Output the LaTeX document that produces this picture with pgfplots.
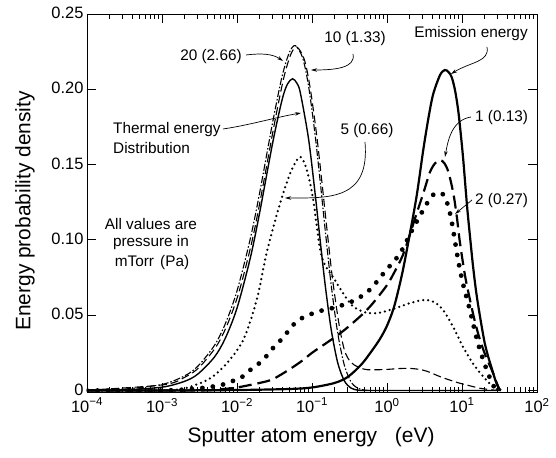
\documentclass[border=0pt]{standalone}
\usepackage{fontspec}
\setmainfont{Liberation Sans}
\usepackage{pgfplots}
\pgfplotsset{compat=1.18}
\usetikzlibrary{arrows.meta}
\begin{document}
\begin{tikzpicture}
\begin{semilogxaxis}[
  at={(87bp,66bp)}, anchor=south west, scale only axis,
  width=450bp, height=378bp,
  xmin=1e-4, xmax=1e2, ymin=-0.001, ymax=0.25,
  xtick={1e-4,1e-3,1e-2,1e-1,1,10,100},
  xticklabels={10\textsuperscript{−4},10\textsuperscript{−3},10\textsuperscript{−2},10\textsuperscript{−1},10\textsuperscript{0},10\textsuperscript{1},10\textsuperscript{2}},
  ytick={0,0.05,0.1,0.15,0.2,0.25},
  yticklabels={0,0.05,0.10,0.15,0.20,0.25},
  tick align=inside, major tick length=9bp, minor tick length=5bp,
  every tick/.style={black, line width=0.8bp},
  axis line style={line width=0.9bp},
  tick label style={font=\fontsize{16.5}{18}\selectfont},
  xticklabel style={yshift=-2.5bp},
  yticklabel style={yshift=1bp},
  xlabel={Sputter atom energy\hspace{0.85em}(eV)},
  ylabel={Energy probability density},
  label style={font=\fontsize{21}{24}\selectfont},
  xlabel style={at={(axis description cs:0.498,-0.119)}, anchor=center},
  ylabel style={at={(axis description cs:-0.138,0.479)}, anchor=center},
  every axis plot/.append style={black, smooth, tension=0.5},
]
% Thermal energy distribution
\addplot[line width=1.4bp] coordinates {
(1e-4,0)(3e-4,0.0004)(0.001,0.0022)(0.002,0.0061)(0.003,0.0109)(0.005,0.0222)(0.007,0.0348)(0.01,0.0547)(0.015,0.0877)(0.02,0.1178)(0.03,0.1648)(0.04,0.1932)(0.047,0.2034)(0.055,0.207)(0.063,0.204)(0.07,0.1975)(0.09,0.167)(0.11,0.1308)(0.13,0.0974)(0.15,0.070)(0.18,0.0407)(0.22,0.0185)(0.27,0.0064)(0.33,0.0017)(0.4,0.0003)(0.5,0)(1,0)(10,0)(33,0)};
% 20 (2.66)
\addplot[line width=1.1bp, dash pattern=on 7bp off 2bp on 1.5bp off 2bp] coordinates {
(1e-4,0.0002)(3e-4,0.00085)(0.001,0.0040)(0.002,0.0097)(0.003,0.0161)(0.005,0.0299)(0.007,0.0444)(0.01,0.0661)(0.015,0.1005)(0.02,0.131)(0.03,0.1785)(0.04,0.2088)(0.05,0.2245)(0.06,0.229)(0.075,0.2209)(0.09,0.2021)(0.11,0.1697)(0.13,0.1366)(0.15,0.1065)(0.18,0.0703)(0.22,0.0383)(0.27,0.0168)(0.33,0.0059)(0.4,0.0017)(0.5,0.0003)(0.6,0)};
% 10 (1.33)
\addplot[line width=1.1bp, dash pattern=on 8bp off 4bp] coordinates {
(1e-4,0.0002)(0.00105,0.0038)(0.0021,0.0093)(0.00315,0.0155)(0.00525,0.029)(0.00735,0.0432)(0.0105,0.0645)(0.01575,0.0985)(0.021,0.1295)(0.0315,0.177)(0.042,0.2075)(0.0525,0.2235)(0.063,0.228)(0.079,0.2198)(0.0945,0.201)(0.1155,0.1695)(0.1365,0.137)(0.1575,0.108)(0.189,0.073)(0.231,0.043)(0.27,0.027)(0.31,0.0205)(0.36,0.0172)(0.45,0.0148)(0.55,0.0138)(0.8,0.0138)(1.0,0.014)(1.5,0.0146)(2.0,0.0147)(2.7,0.014)(3.4,0.0128)(5.1,0.0092)(7,0.0068)(9.4,0.0048)(13,0.003)(17.4,0.0015)(25,0.0004)(32,0)};
% 5 (0.66)
\addplot[line width=2.5bp, line cap=round, dash pattern=on 0bp off 5bp] coordinates {
(1e-4,0)(0.001,0)(0.0015,0.0004)(0.0024,0.0025)(0.0044,0.0081)(0.0073,0.018)(0.0121,0.0335)(0.0183,0.060)(0.025,0.092)(0.0374,0.124)(0.051,0.144)(0.0676,0.155)(0.0807,0.15)(0.094,0.138)(0.105,0.125)(0.118,0.106)(0.13,0.092)(0.15,0.083)(0.19,0.0755)(0.26,0.0645)(0.35,0.056)(0.5,0.052)(0.73,0.0513)(1.1,0.0535)(2.03,0.058)(3.0,0.060)(4.14,0.059)(5.6,0.0535)(7.66,0.042)(10.3,0.029)(14,0.018)(19.2,0.0092)(26,0.0025)(32,0)};
% 2 (0.27)
\addplot[line width=4.8bp, line cap=round, dash pattern=on 0bp off 10.5bp] coordinates {
(1e-4,0)(0.001,0)(0.002,0.0006)(0.0032,0.0015)(0.0046,0.0025)(0.0063,0.0037)(0.0081,0.0058)(0.011,0.0081)(0.015,0.0136)(0.022,0.020)(0.03,0.028)(0.041,0.035)(0.056,0.0435)(0.073,0.048)(0.1,0.051)(0.121,0.0525)(0.214,0.0555)(0.374,0.060)(0.593,0.067)(0.94,0.079)(1.49,0.091)(2.24,0.108)(3.05,0.12)(3.7,0.127)(4.37,0.131)(5.1,0.131)(5.9,0.129)(6.9,0.118)(7.6,0.107)(8.85,0.087)(10.3,0.071)(12.8,0.053)(16.3,0.0315)(21.4,0.0136)(27,0.002)(32,0)};
% 1 (0.13)
\addplot[line width=2.2bp, dash pattern=on 13bp off 6bp] coordinates {
(1e-4,0)(0.003,0)(0.006,0.0008)(0.01,0.002)(0.02,0.005)(0.03,0.0075)(0.05,0.014)(0.075,0.02)(0.1,0.025)(0.15,0.031)(0.21,0.036)(0.3,0.042)(0.48,0.051)(0.65,0.058)(1.0,0.070)(1.3,0.080)(1.63,0.09)(2.0,0.103)(2.5,0.118)(3.05,0.131)(3.74,0.145)(4.4,0.151)(5.1,0.153)(5.8,0.151)(6.6,0.145)(7.66,0.131)(8.5,0.116)(9.4,0.098)(11,0.076)(12.8,0.060)(15,0.045)(17.4,0.0335)(21,0.022)(25,0.0136)(28.5,0.006)(32,0)};
% Emission energy
\addplot[line width=2.2bp] coordinates {
(1e-4,0)(0.001,0)(0.01,0.0003)(0.05,0.001)(0.1,0.002)(0.2,0.005)(0.3,0.009)(0.45,0.017)(0.6,0.025)(0.8,0.034)(1.0,0.043)(1.25,0.056)(1.6,0.078)(2.0,0.103)(2.5,0.13)(3.05,0.160)(3.6,0.182)(4.14,0.197)(5.1,0.2095)(5.9,0.2128)(6.6,0.2115)(7.3,0.208)(8.1,0.199)(8.9,0.186)(9.6,0.171)(10.4,0.153)(11.7,0.122)(12.8,0.102)(14,0.083)(15.5,0.065)(17.4,0.049)(20,0.032)(22.5,0.022)(25,0.0145)(28,0.0065)(30.5,0.002)(33,0)};
\end{semilogxaxis}
\begin{scope}[x=1bp, y=-1bp, shift={(0,458bp)},
  every node/.style={font=\fontsize{15.4}{18}\selectfont, inner sep=0pt},
  arr/.style={line width=0.7bp, -{Stealth[length=6bp, width=3.5bp]}}]
\node at (211,57) {20 (2.66)};
\draw[arr] (246,55) .. controls (262,53) and (273,54) .. (283,61);
\node at (355,39) {10 (1.33)};
\draw[arr] (353,54) .. controls (356,68) and (335,70) .. (311,70);
\node at (471,34) {Emission energy};
\draw[arr] (487,47) .. controls (490,62) and (470,62) .. (451,74);
\node[anchor=west] at (113,130) {Thermal energy};
\node[anchor=west] at (113,148) {Distribution};
\draw[arr] (223,129) .. controls (250,125) and (277,117) .. (301,113);
\node at (367,131) {5 (0.66)};
\draw[arr] (365,142) .. controls (370,200) and (330,198) .. (285,198);
\node[anchor=west] at (475,118) {1 (0.13)};
\draw[arr] (471,117) .. controls (452,120) and (448,140) .. (445,157);
\node[anchor=west] at (475,201) {2 (0.27)};
\draw[arr] (472,200) -- (455,214);
\node at (151,224) {All values are};
\node at (151,243) {pressure in};
\node at (152,263) {mTorr\hspace{0.4em}(Pa)};
\end{scope}
\pgfresetboundingbox
\useasboundingbox (0,0) rectangle (556bp,458bp);
\end{tikzpicture}
\end{document}
